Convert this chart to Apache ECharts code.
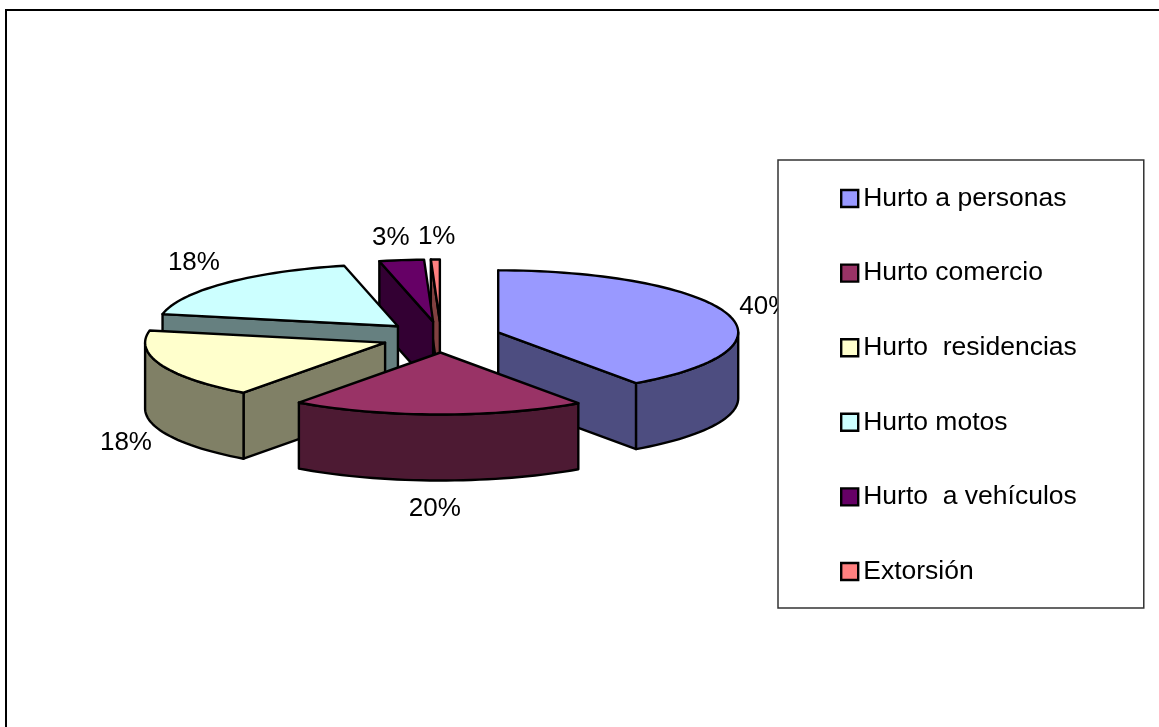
<!DOCTYPE html>
<html>
<head>
<meta charset="utf-8">
<style>html,body{margin:0;padding:0;background:#fff}#c{width:1159px;height:727px}</style>
<script src="https://cdn.jsdelivr.net/npm/echarts@6/dist/echarts.min.js"></script>
</head>
<body>
<div id="c"></div>
<script>
const categories = ['Hurto a personas', 'Hurto comercio', 'Hurto  residencias', 'Hurto motos', 'Hurto  a vehículos', 'Extorsión'];
const values = [40.3, 19.8, 18.1, 18.3, 3.0, 0.6];
const topColors = ['#9999FF', '#993366', '#FFFFCC', '#CCFFFF', '#660066', '#FF8080'];
const sideColors = ['#4D4D80', '#4D1A33', '#808066', '#668080', '#330033', '#804040'];
// painter's order: index of each slice, back to front
const drawOrder = [5, 4, 3, 2, 0, 1];
// small per-label layout corrections, in pixels
const labelNudge = [[4, 0], [-3, 4], [-2, 3], [-6, -3], [-6, 1], [2, 1]];

const FONT = '"Liberation Sans", Arial, sans-serif';
const pie = { cx: 441, cy: 337, rx: 240, ry: 62, depth: 66, explode: 0.25, lineWidth: 2.4 };
const total = values.reduce((a, b) => a + b, 0);

function pt(c, a, k) {
  return [c[0] + pie.rx * k * Math.sin(a), c[1] - pie.ry * k * Math.cos(a)];
}
function down(p) { return [p[0], p[1] + pie.depth]; }

function sliceRender(idx) {
  return function () {
    let acc = 0;
    for (let i = 0; i < idx; i++) acc += values[i];
    const a0 = acc / total * 2 * Math.PI;
    const a1 = (acc + values[idx]) / total * 2 * Math.PI;
    const mid = (a0 + a1) / 2;
    const c = pt([pie.cx, pie.cy], mid, pie.explode);
    const n = Math.max(2, Math.ceil((a1 - a0) / (Math.PI / 90)));
    const arc = [];
    for (let i = 0; i <= n; i++) arc.push(a0 + (a1 - a0) * i / n);

    const shapeStyle = (fill) => ({ fill, stroke: '#000', lineWidth: pie.lineWidth, lineJoin: 'round' });
    const poly = (points, fill) => ({ type: 'polygon', shape: { points }, style: shapeStyle(fill) });

    const children = [];
    const cb = down(c);
    // radial walls: only those facing the viewer
    if (Math.sin(a0) <= 1e-9) {
      const e = pt(c, a0, 1);
      children.push(poly([c, e, down(e), cb], sideColors[idx]));
    }
    if (Math.sin(a1) > 0) {
      const e = pt(c, a1, 1);
      children.push(poly([c, e, down(e), cb], sideColors[idx]));
    }
    // outer curved wall: only the part facing the viewer
    const lo = Math.max(a0, Math.PI / 2), hi = Math.min(a1, 1.5 * Math.PI);
    if (lo < hi) {
      const as = [lo].concat(arc.filter((a) => a > lo && a < hi), [hi]);
      const upper = as.map((a) => pt(c, a, 1));
      const lower = upper.map(down).reverse();
      children.push(poly(upper.concat(lower), sideColors[idx]));
    }
    // top face
    children.push(poly([c].concat(arc.map((a) => pt(c, a, 1))), topColors[idx]));
    // percentage label
    const e = pt(c, mid, 1);
    const lx = e[0] + 36 * Math.sin(mid) + labelNudge[idx][0];
    const ly = e[1] - 24 * Math.cos(mid) + (Math.cos(mid) < 0 ? pie.depth : 0) + labelNudge[idx][1];
    children.push({
      type: 'text', z2: 10,
      style: {
        x: lx, y: ly, text: Math.round(values[idx] / total * 100) + '%',
        fill: '#000', font: '26px ' + FONT, align: 'center', verticalAlign: 'middle'
      }
    });
    return { type: 'group', children };
  };
}

const series = categories.map((name, i) => ({
  type: 'custom',
  name,
  coordinateSystem: 'none',
  silent: true,
  animation: false,
  z: 2 + drawOrder.indexOf(i) * 0.01,
  itemStyle: { color: topColors[i] },
  data: [[values[i]]],
  renderItem: sliceRender(i)
}));

const chart = echarts.init(document.getElementById('c'), null, { renderer: 'canvas' });
chart.setOption({
  backgroundColor: '#fff',
  animation: false,
  graphic: [{
    type: 'polyline', z: 0, silent: true,
    shape: { points: [[6, 727], [6, 10], [1159, 10]] },
    style: { fill: null, stroke: '#000', lineWidth: 2 }
  }],
  legend: {
    orient: 'vertical',
    left: 778, top: 160,
    selectedMode: false,
    data: categories,
    icon: 'rect',
    itemWidth: 17, itemHeight: 17,
    itemGap: 41.6,
    padding: [22, 67, 20, 62],
    backgroundColor: '#fff',
    borderColor: '#333', borderWidth: 1.5,
    itemStyle: { borderColor: '#000', borderWidth: 2.4 },
    textStyle: { color: '#000', fontFamily: FONT, fontSize: 26.5, lineHeight: 30, padding: [3, 0, 0, 0] },
    z: 20
  },
  series
});
</script>
</body>
</html>
